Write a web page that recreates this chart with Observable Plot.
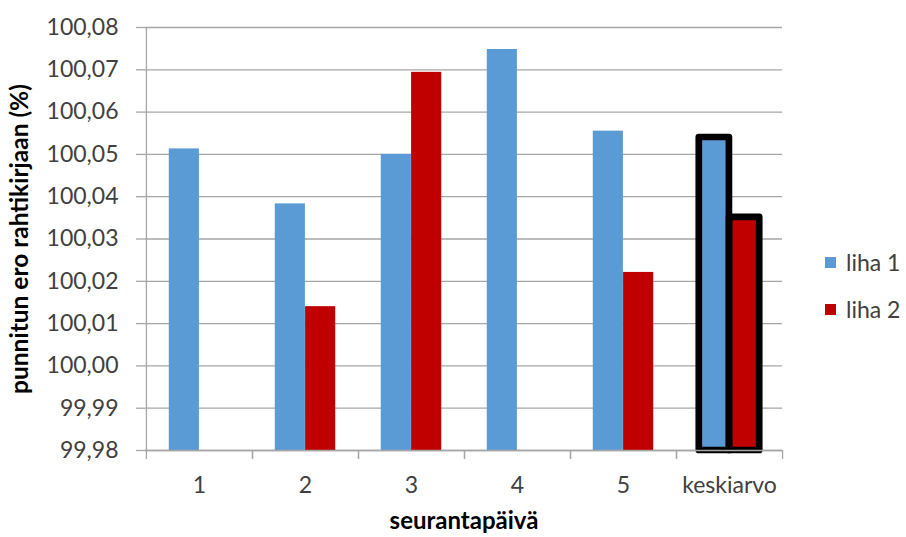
<!DOCTYPE html>
<html>
<head>
<meta charset="utf-8">
<script src="https://cdn.jsdelivr.net/npm/d3@7"></script>
<script src="https://cdn.jsdelivr.net/npm/@observablehq/plot@0.6"></script>
<style>
  body { margin: 0; background: #fff; }
  #chart { position: relative; width: 906px; height: 537px; font-family: Lato, "Open Sans", sans-serif; }
  .legend { position: absolute; left: 825px; font-size: 23px; color: #404040; }
  .legend div { display: flex; align-items: center; height: 30px; }
  .legend span.sw { display: inline-block; width: 11px; height: 11px; margin-right: 10px; }
</style>
</head>
<body>
<div id="chart"></div>
<script>
// Seurantapäivät ja keskiarvo
const categories = ["1", "2", "3", "4", "5", "keskiarvo"];
const series = ["liha 1", "liha 2"];
// Punnitun painon ero rahtikirjaan (%), null = ei mittausta
const liha1 = [100.0513, 100.0383, 100.0500, 100.0748, 100.0555, 100.0540];
const liha2 = [null, 100.0140, 100.0694, null, 100.0221, 100.0351];
const yTicks = [99.98, 99.99, 100.00, 100.01, 100.02, 100.03, 100.04, 100.05, 100.06, 100.07, 100.08];
const colors = ["#5B9BD5", "#C00000"];

const rows = [];
categories.forEach((c, i) => {
  if (liha1[i] != null) rows.push({cat: c, series: series[0], value: liha1[i]});
  if (liha2[i] != null) rows.push({cat: c, series: series[1], value: liha2[i]});
});

const W = 906, H = 537;
const mL = 145, mR = 124, mT = 27, mB = 87;
const bw = (W - mL - mR) / categories.length;   // kategorian leveys
const barW = 30.3;                               // pylvään leveys
const base = yTicks[0];
const fmt = d => d.toFixed(2).replace(".", ",");
const gray = "#a6a6a6";

const insetFor = s => s === series[0]
  ? {insetLeft: bw / 2 - barW, insetRight: bw / 2}
  : {insetLeft: bw / 2, insetRight: bw / 2 - barW};

const barMarks = (filter, extra) => series.map(s =>
  Plot.barY(rows.filter(d => d.series === s && filter(d)), {
    x: "cat", y1: base, y2: "value",
    ...insetFor(s),
    ...extra(s)
  })
);

const plot = Plot.plot({
  width: W, height: H,
  marginLeft: mL, marginRight: mR, marginTop: mT, marginBottom: mB,
  style: {fontFamily: "Lato, 'Open Sans', sans-serif", color: "#404040", background: "#fff"},
  x: {domain: categories, padding: 0, axis: null},
  y: {domain: [yTicks[0], yTicks[yTicks.length - 1]], axis: null},
  marks: [
    Plot.gridY(yTicks, {stroke: gray, strokeOpacity: 1, strokeWidth: 1.3}),
    ...barMarks(() => true, s => ({fill: colors[series.indexOf(s)]})),
    ...barMarks(d => d.cat === "keskiarvo", () => ({fill: "none", stroke: "black", strokeWidth: 6.7, strokeLinejoin: "round"})),
    // akselit
    Plot.ruleY([base], {stroke: gray, strokeWidth: 1.3}),
    Plot.ruleX([categories[0]], {dx: -bw / 2, y1: base, y2: yTicks[yTicks.length - 1], stroke: gray, strokeWidth: 1.3}),
    Plot.axisY({ticks: yTicks, tickFormat: fmt, tickSize: 9, tickPadding: 18, fontSize: 23, stroke: gray, strokeWidth: 1.3, label: null}),
    Plot.axisX({tickSize: 9, dx: -bw / 2, tickFormat: null, stroke: gray, strokeWidth: 1.3, label: null}),
    Plot.axisX({tickSize: 9, dx: bw / 2, tickFormat: null, stroke: gray, strokeWidth: 1.3, label: null}),
    Plot.axisX({tickSize: 0, tickPadding: 26, fontSize: 23, label: null}),
    // akselien otsikot
    Plot.text(["punnitun ero rahtikirjaan (%)"], {frameAnchor: "left", textAnchor: "middle", rotate: -90, dx: -118, fontWeight: "bold", fontSize: 24.5, fill: "#000", lineAnchor: "bottom"}),
    Plot.text(["seurantapäivä"], {frameAnchor: "bottom", dy: 78, fontWeight: "bold", fontSize: 24, fill: "#000"})
  ]
});

const chart = document.getElementById("chart");
chart.appendChild(plot);

const legend = document.createElement("div");
legend.className = "legend";
legend.style.top = "247px";
series.forEach((s, i) => {
  const row = document.createElement("div");
  row.style.marginBottom = i === 0 ? "17px" : "0";
  const sw = document.createElement("span");
  sw.className = "sw";
  sw.style.background = colors[i];
  row.appendChild(sw);
  row.appendChild(document.createTextNode(s));
  legend.appendChild(row);
});
chart.appendChild(legend);
</script>
</body>
</html>
